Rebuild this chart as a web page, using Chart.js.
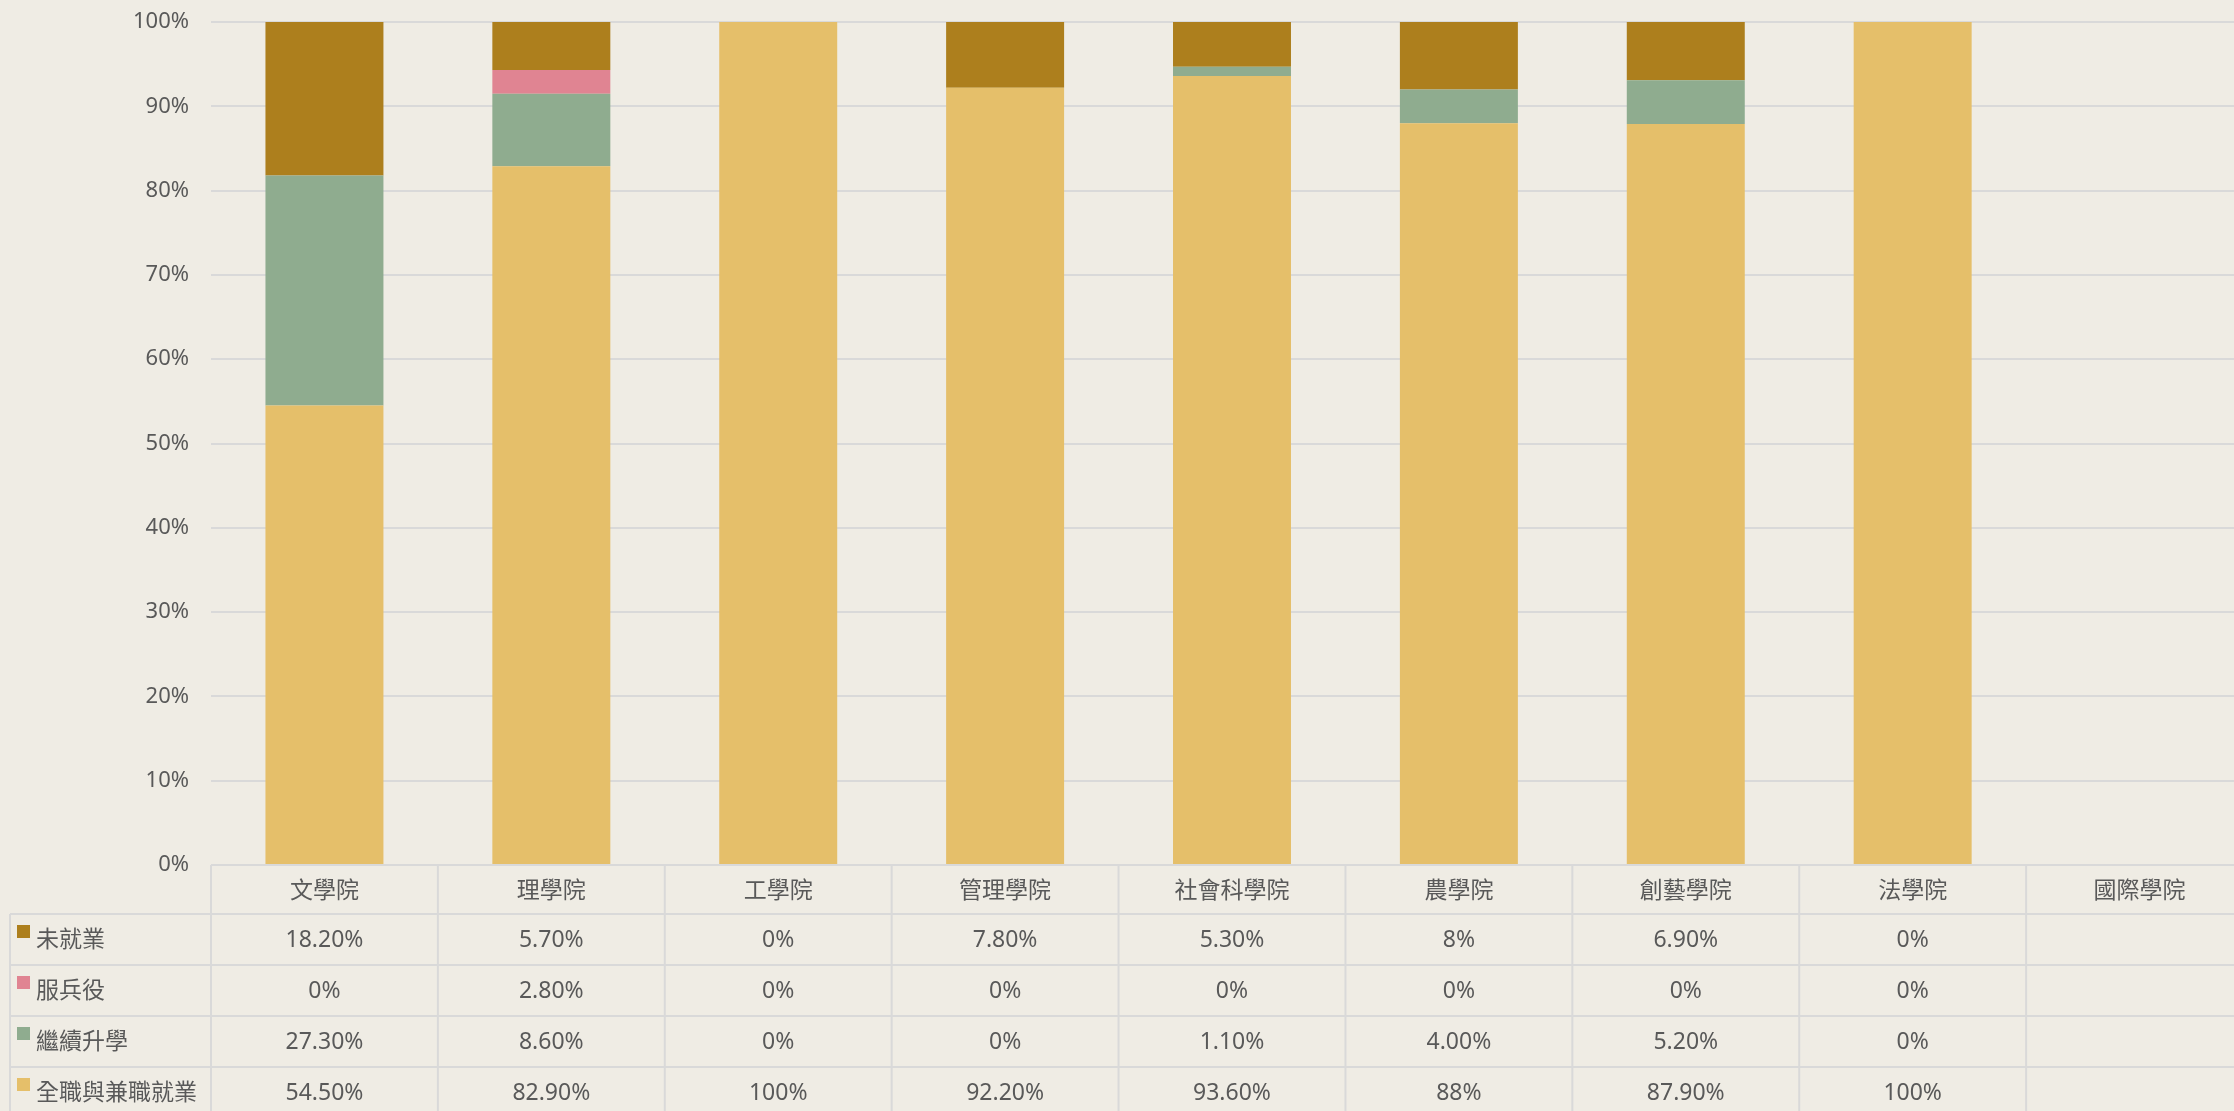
<!DOCTYPE html>
<html>
<head>
<meta charset="utf-8">
<script src="https://cdn.jsdelivr.net/npm/chart.js@4.4.1/dist/chart.umd.min.js"></script>
<style>
  html, body { margin: 0; padding: 0; background: #efece4; overflow: hidden; }
  #wrap { width: 2234px; height: 1111px; overflow: hidden; }
  canvas { display: block; }
</style>
</head>
<body>
<!-- canvas a bit wider than the window: the last column runs off the right edge -->
<div id="wrap"><canvas id="myChart" width="2253" height="1111"></canvas></div>
<script>
const categories = ['文學院', '理學院', '工學院', '管理學院', '社會科學院', '農學院', '創藝學院', '法學院', '國際學院'];

// values as shown in the table ('' = no data)
const unemployed = ['18.20', '5.70', '0', '7.80', '5.30', '8', '6.90', '0', ''];
const military = ['0', '2.80', '0', '0', '0', '0', '0', '0', ''];
const furtherStudy = ['27.30', '8.60', '0', '0', '1.10', '4.00', '5.20', '0', ''];
const employed = ['54.50', '82.90', '100', '92.20', '93.60', '88', '87.90', '100', ''];

const seriesNames = ['未就業', '服兵役', '繼續升學', '全職與兼職就業'];
const seriesColors = ['#ad7f1d', '#e08492', '#8fac8f', '#e5bf6a'];
const yTicks = [0, 10, 20, 30, 40, 50, 60, 70, 80, 90, 100];

const tableRows = [unemployed, military, furtherStudy, employed];

const textColor = '#595959';
const lineColor = '#d9d9d9';
const fontFamily = '"Noto Sans", "Noto Sans CJK TC", sans-serif';

function toNum(arr) {
  return arr.map(v => v === '' ? null : Number(v));
}

// table under the plot, columns follow the x scale
const dataTable = {
  id: 'dataTable',
  afterDraw(chart) {
    const ctx = chart.ctx;
    const area = chart.chartArea;
    const x = chart.scales.x;
    const colW = (area.right - area.left) / categories.length;
    const left = 10;
    const headTop = area.bottom;
    const headH = 49;
    const rowH = 51;

    ctx.save();
    ctx.strokeStyle = lineColor;
    ctx.lineWidth = 2;

    // horizontal lines
    ctx.beginPath();
    ctx.moveTo(area.left, headTop);
    ctx.lineTo(area.right, headTop);
    for (let r = 0; r <= tableRows.length; r++) {
      const y = headTop + headH + r * rowH;
      ctx.moveTo(left, y);
      ctx.lineTo(area.right, y);
    }
    // vertical lines
    ctx.moveTo(left, headTop + headH);
    ctx.lineTo(left, chart.height);
    for (let i = 0; i <= categories.length; i++) {
      const cx = area.left + i * colW;
      ctx.moveTo(cx, headTop);
      ctx.lineTo(cx, chart.height);
    }
    ctx.stroke();

    ctx.font = '23px ' + fontFamily;
    ctx.fillStyle = textColor;
    ctx.textAlign = 'center';
    ctx.textBaseline = 'middle';

    categories.forEach((c, i) => {
      ctx.fillText(c, x.getPixelForValue(i), headTop + headH / 2 + 2);
    });

    tableRows.forEach((row, r) => {
      const top = headTop + headH + r * rowH;
      const cy = top + rowH / 2 + 1;
      // legend key + name
      ctx.fillStyle = seriesColors[r];
      ctx.fillRect(17, top + 11, 13, 13);
      ctx.fillStyle = textColor;
      ctx.textAlign = 'left';
      ctx.fillText(seriesNames[r], 36, cy);
      ctx.textAlign = 'center';
      row.forEach((v, i) => {
        if (v === '') return;
        ctx.fillText(v + '%', x.getPixelForValue(i), cy);
      });
    });
    ctx.restore();
  }
};

const ctx = document.getElementById('myChart').getContext('2d');

new Chart(ctx, {
  type: 'bar',
  data: {
    labels: categories,
    datasets: [
      { label: seriesNames[3], data: toNum(employed), backgroundColor: seriesColors[3] },
      { label: seriesNames[2], data: toNum(furtherStudy), backgroundColor: seriesColors[2] },
      { label: seriesNames[1], data: toNum(military), backgroundColor: seriesColors[1] },
      { label: seriesNames[0], data: toNum(unemployed), backgroundColor: seriesColors[0] }
    ]
  },
  options: {
    responsive: false,
    animation: false,
    layout: { padding: { top: 22, right: 0, bottom: 246, left: 0 } },
    datasets: {
      bar: { categoryPercentage: 1, barPercentage: 0.52 }
    },
    plugins: {
      legend: { display: false },
      tooltip: { enabled: false }
    },
    scales: {
      x: {
        stacked: true,
        display: false
      },
      y: {
        stacked: true,
        min: 0,
        max: 100,
        afterFit(scale) {
          scale.width = 211;
          scale.paddingTop = 0;
          scale.paddingBottom = 0;
        },
        afterBuildTicks(scale) { scale.ticks = yTicks.map(v => ({ value: v })); },
        border: { display: false },
        grid: { color: lineColor, lineWidth: 2, drawTicks: false },
        ticks: {
          padding: 22,
          color: textColor,
          font: { size: 22, family: fontFamily },
          callback: v => v + '%'
        }
      }
    }
  },
  plugins: [dataTable]
});
</script>
</body>
</html>
